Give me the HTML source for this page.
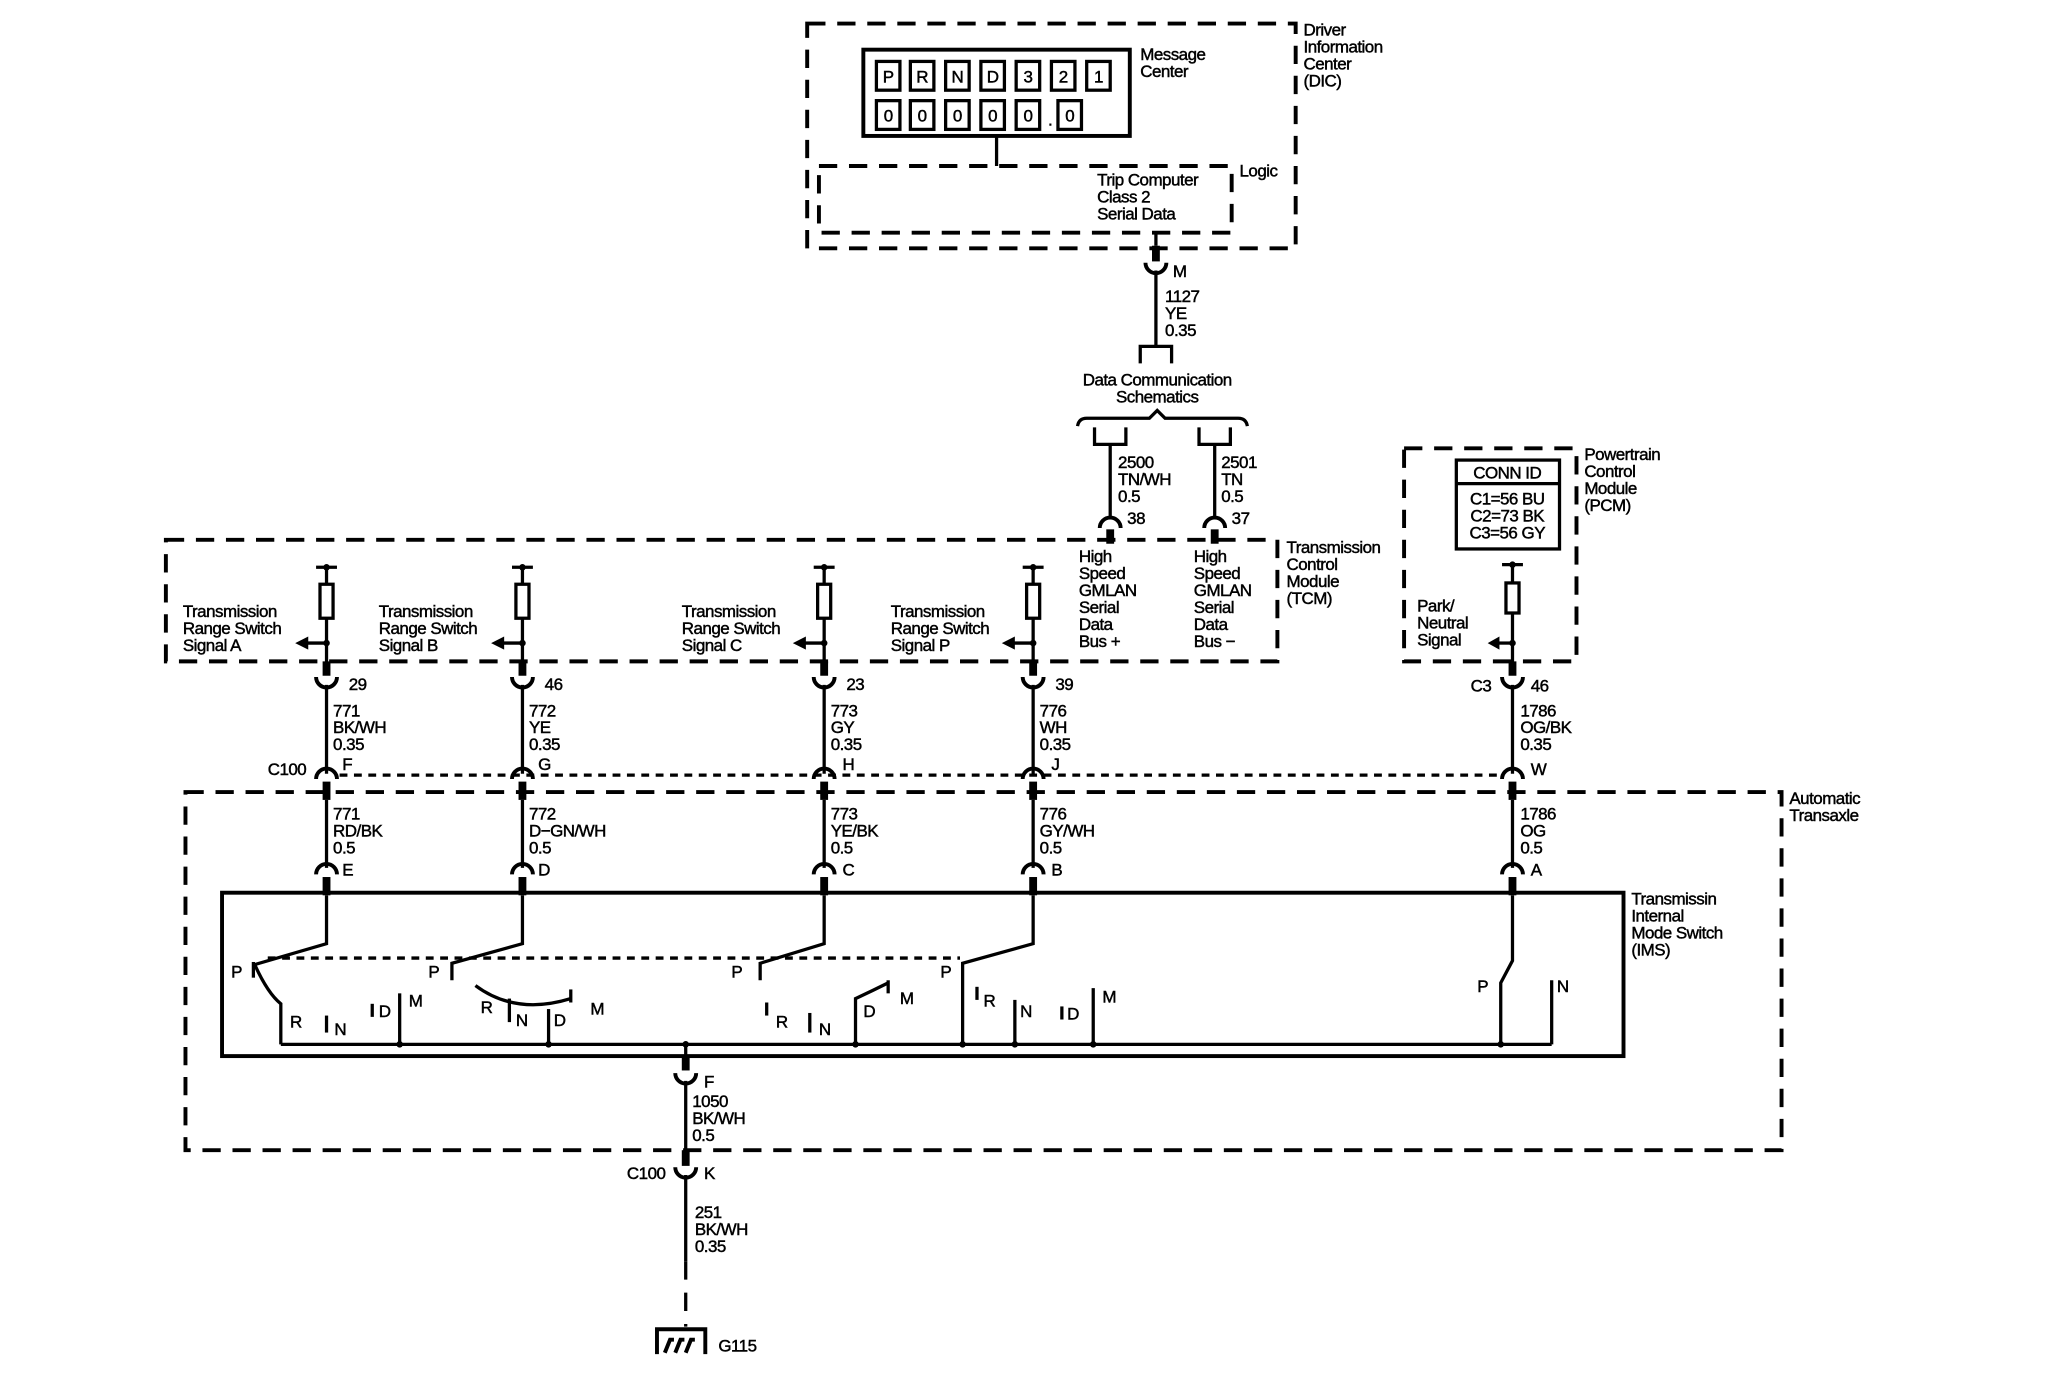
<!DOCTYPE html>
<html><head><meta charset="utf-8"><style>
html,body{margin:0;padding:0;background:#fff;}
svg{display:block}
text{font-family:"Liberation Sans",sans-serif;font-size:13px;fill:#000;stroke:#000;stroke-width:0.35;letter-spacing:-0.4px}
.d{fill:none;stroke:#000;stroke-width:3;stroke-dasharray:14 9}
.l{fill:none;stroke:#000;stroke-width:2.5}
.s{fill:none;stroke:#000;stroke-width:6}
.c{fill:none;stroke:#000;stroke-width:3}
.dot{fill:none;stroke:#000;stroke-width:2.5;stroke-dasharray:6 5}
</style></head><body>
<svg width="2048" height="1392" viewBox="0 0 1568 1065" preserveAspectRatio="none" xmlns="http://www.w3.org/2000/svg">
<rect width="1568" height="1065" fill="#fff"/>
<!-- DIC -->
<rect class="d" x="618" y="18" width="374" height="172"/>
<rect x="661" y="38" width="204" height="66" fill="none" stroke="#000" stroke-width="3"/>
<g fill="none" stroke="#000" stroke-width="2.5">
<rect x="671" y="47" width="18" height="22"/><rect x="697" y="47" width="18" height="22"/><rect x="724" y="47" width="18" height="22"/><rect x="751" y="47" width="18" height="22"/><rect x="778" y="47" width="18" height="22"/><rect x="805" y="47" width="18" height="22"/><rect x="832" y="47" width="18" height="22"/>
<rect x="671" y="77" width="18" height="22"/><rect x="697" y="77" width="18" height="22"/><rect x="724" y="77" width="18" height="22"/><rect x="751" y="77" width="18" height="22"/><rect x="778" y="77" width="18" height="22"/><rect x="810" y="77" width="18" height="22"/>
</g>
<g text-anchor="middle">
<text x="680" y="63">P</text><text x="706" y="63">R</text><text x="733" y="63">N</text><text x="760" y="63">D</text><text x="787" y="63">3</text><text x="814" y="63">2</text><text x="841" y="63">1</text>
<text x="680" y="93">0</text><text x="706" y="93">0</text><text x="733" y="93">0</text><text x="760" y="93">0</text><text x="787" y="93">0</text><text x="804" y="96">.</text><text x="819" y="93">0</text>
</g>
<text x="873" y="46">Message</text><text x="873" y="59">Center</text>
<text x="998" y="27">Driver</text><text x="998" y="40">Information</text><text x="998" y="53">Center</text><text x="998" y="66">(DIC)</text>
<line class="l" x1="763" y1="104" x2="763" y2="127"/>
<rect class="d" x="627" y="127" width="316" height="51"/>
<text x="949" y="135">Logic</text>
<text x="840" y="142">Trip Computer</text><text x="840" y="155">Class 2</text><text x="840" y="168">Serial Data</text>
<line class="l" x1="885" y1="178" x2="885" y2="188"/>
<line class="s" x1="885" y1="188" x2="885" y2="200"/>
<path class="c" d="M877 201 A8 8 0 0 0 893 201"/>
<line class="l" x1="885" y1="207" x2="885" y2="265"/>
<text x="898" y="212">M</text>
<text x="892" y="231">1127</text><text x="892" y="244">YE</text><text x="892" y="257">0.35</text>
<path class="l" d="M873 278 V265 H897 V278"/>
<text x="886" y="295" text-anchor="middle">Data Communication</text>
<text x="886" y="308" text-anchor="middle">Schematics</text>
<path class="l" d="M825 326 Q826 320 832 320 H880 L886 314 L892 320 H948 Q954 320 955 326"/>
<path class="l" d="M838 327 V340 H862 V327"/>
<path class="l" d="M918 327 V340 H942 V327"/>
<line class="l" x1="850" y1="340" x2="850" y2="396"/>
<line class="l" x1="930" y1="340" x2="930" y2="396"/>
<text x="856" y="358">2500</text><text x="856" y="371">TN/WH</text><text x="856" y="384">0.5</text>
<text x="935" y="358">2501</text><text x="935" y="371">TN</text><text x="935" y="384">0.5</text>
<path class="c" d="M842 404 A8 8 0 0 1 858 404"/><line class="s" x1="850" y1="405" x2="850" y2="416"/>
<path class="c" d="M922 404 A8 8 0 0 1 938 404"/><line class="s" x1="930" y1="405" x2="930" y2="416"/>
<text x="863" y="401">38</text><text x="943" y="401">37</text>
<!-- TCM -->
<rect class="d" x="127" y="413" width="851" height="93"/>
<text x="985" y="423">Transmission</text><text x="985" y="436">Control</text><text x="985" y="449">Module</text><text x="985" y="462">(TCM)</text>
<text x="826" y="430">High</text><text x="826" y="443">Speed</text><text x="826" y="456">GMLAN</text><text x="826" y="469">Serial</text><text x="826" y="482">Data</text><text x="826" y="495">Bus +</text>
<text x="914" y="430">High</text><text x="914" y="443">Speed</text><text x="914" y="456">GMLAN</text><text x="914" y="469">Serial</text><text x="914" y="482">Data</text><text x="914" y="495">Bus −</text>

<g id="cA">
<line class="l" x1="242" y1="434" x2="258" y2="434"/><circle cx="250" cy="434" r="2.5"/>
<line class="l" x1="250" y1="434" x2="250" y2="508"/>
<rect x="245" y="447" width="10" height="26" fill="#fff" stroke="#000" stroke-width="2.5"/>
<circle cx="250" cy="492" r="2.5"/><line class="l" x1="250" y1="492" x2="234" y2="492"/><path d="M226 492 L236 487 L236 497Z"/>
<line class="s" x1="250" y1="506" x2="250" y2="517"/>
<path class="c" d="M242 518 A8 8 0 0 0 258 518"/>
<line class="l" x1="250" y1="524" x2="250" y2="592"/>
<path class="c" d="M242 596 A8 8 0 0 1 258 596"/>
<line class="s" x1="250" y1="598" x2="250" y2="612"/>
<line class="l" x1="250" y1="612" x2="250" y2="664"/>
<path class="c" d="M242 669 A8 8 0 0 1 258 669"/>
<line class="s" x1="250" y1="671" x2="250" y2="685"/>
</g>
<use href="#cA" x="150"/><use href="#cA" x="381"/><use href="#cA" x="541"/>
<text x="140" y="472">Transmission</text><text x="140" y="485">Range Switch</text><text x="140" y="498">Signal A</text>
<text x="290" y="472">Transmission</text><text x="290" y="485">Range Switch</text><text x="290" y="498">Signal B</text>
<text x="522" y="472">Transmission</text><text x="522" y="485">Range Switch</text><text x="522" y="498">Signal C</text>
<text x="682" y="472">Transmission</text><text x="682" y="485">Range Switch</text><text x="682" y="498">Signal P</text>
<text x="267" y="528">29</text><text x="417" y="528">46</text><text x="648" y="528">23</text><text x="808" y="528">39</text>
<text x="255" y="548">771</text><text x="255" y="561">BK/WH</text><text x="255" y="574">0.35</text>
<text x="405" y="548">772</text><text x="405" y="561">YE</text><text x="405" y="574">0.35</text>
<text x="636" y="548">773</text><text x="636" y="561">GY</text><text x="636" y="574">0.35</text>
<text x="796" y="548">776</text><text x="796" y="561">WH</text><text x="796" y="574">0.35</text>
<text x="205" y="593">C100</text>
<text x="262" y="589">F</text><text x="412" y="589">G</text><text x="645" y="589">H</text><text x="805" y="589">J</text><text x="1172" y="593">W</text>
<line class="dot" x1="260" y1="593" x2="1150" y2="593"/>
<text x="255" y="627">771</text><text x="255" y="640">RD/BK</text><text x="255" y="653">0.5</text>
<text x="405" y="627">772</text><text x="405" y="640">D−GN/WH</text><text x="405" y="653">0.5</text>
<text x="636" y="627">773</text><text x="636" y="640">YE/BK</text><text x="636" y="653">0.5</text>
<text x="796" y="627">776</text><text x="796" y="640">GY/WH</text><text x="796" y="653">0.5</text>
<text x="262" y="670">E</text><text x="412" y="670">D</text><text x="645" y="670">C</text><text x="805" y="670">B</text>

<!-- PCM -->
<rect class="d" x="1075" y="343" width="132" height="163"/>
<text x="1213" y="352">Powertrain</text><text x="1213" y="365">Control</text><text x="1213" y="378">Module</text><text x="1213" y="391">(PCM)</text>
<rect x="1115" y="352" width="79" height="68" fill="none" stroke="#000" stroke-width="2.5"/>
<line class="l" x1="1115" y1="370" x2="1194" y2="370"/>
<text x="1154" y="366" text-anchor="middle">CONN ID</text>
<text x="1154" y="386" text-anchor="middle">C1=56 BU</text><text x="1154" y="399" text-anchor="middle">C2=73 BK</text><text x="1154" y="412" text-anchor="middle">C3=56 GY</text>
<line class="l" x1="1150" y1="432" x2="1166" y2="432"/><circle cx="1158" cy="432" r="2.5"/>
<line class="l" x1="1158" y1="432" x2="1158" y2="508"/>
<rect x="1153" y="446" width="10" height="23" fill="#fff" stroke="#000" stroke-width="2.5"/>
<circle cx="1158" cy="492" r="2.5"/><line class="l" x1="1158" y1="492" x2="1146" y2="492"/><path d="M1139 492 L1148 487 L1148 497Z"/>
<text x="1085" y="468">Park/</text><text x="1085" y="481">Neutral</text><text x="1085" y="494">Signal</text>
<line class="s" x1="1158" y1="506" x2="1158" y2="517"/>
<path class="c" d="M1150 518 A8 8 0 0 0 1166 518"/>
<line class="l" x1="1158" y1="524" x2="1158" y2="592"/>
<path class="c" d="M1150 596 A8 8 0 0 1 1166 596"/>
<line class="s" x1="1158" y1="598" x2="1158" y2="612"/>
<line class="l" x1="1158" y1="612" x2="1158" y2="664"/>
<path class="c" d="M1150 669 A8 8 0 0 1 1166 669"/>
<line class="s" x1="1158" y1="671" x2="1158" y2="685"/>
<text x="1126" y="529">C3</text><text x="1172" y="529">46</text>
<text x="1164" y="548">1786</text><text x="1164" y="561">OG/BK</text><text x="1164" y="574">0.35</text>
<text x="1164" y="627">1786</text><text x="1164" y="640">OG</text><text x="1164" y="653">0.5</text>
<text x="1172" y="670">A</text>

<!-- Transaxle -->
<rect class="d" x="142" y="606" width="1222" height="274"/>
<text x="1370" y="615">Automatic</text><text x="1370" y="628">Transaxle</text>
<rect x="170" y="683" width="1073" height="125" fill="none" stroke="#000" stroke-width="3"/>
<text x="1249" y="692">Transmissin</text><text x="1249" y="705">Internal</text><text x="1249" y="718">Mode Switch</text><text x="1249" y="731">(IMS)</text>

<line class="l" x1="215" y1="799" x2="1188" y2="799"/>
<line class="dot" x1="205" y1="733" x2="735" y2="733"/>
<g class="l">
<path d="M250 685 V722 L195 738 Q205 760 215 768 V799"/>
<line x1="194" y1="736" x2="194" y2="748"/>
<line x1="250" y1="777" x2="250" y2="790"/><line x1="285" y1="768" x2="285" y2="778"/>
<line x1="306" y1="760" x2="306" y2="799"/>
<path d="M400 685 V722 L346 737 V750"/>
<path d="M364 754 Q395 777 437 764"/><line x1="437" y1="757" x2="437" y2="767"/>
<line x1="390" y1="764" x2="390" y2="782"/><line x1="420" y1="772" x2="420" y2="799"/>
<path d="M631 685 V722 L582 737 V750"/>
<line x1="587" y1="767" x2="587" y2="777"/><line x1="620" y1="775" x2="620" y2="790"/>
<path d="M655 799 V764 Q668 758 680 752"/><line x1="680" y1="750" x2="680" y2="760"/>
<path d="M791 685 V722 L737 737 V799"/>
<line x1="748" y1="755" x2="748" y2="765"/><line x1="777" y1="765" x2="777" y2="799"/>
<line x1="813" y1="770" x2="813" y2="780"/><line x1="837" y1="756" x2="837" y2="799"/>
<path d="M1158 685 V735 L1149 752 V799"/>
<line x1="1188" y1="750" x2="1188" y2="799"/>
</g>
<g>
<circle cx="306" cy="799" r="2.5"/><circle cx="420" cy="799" r="2.5"/><circle cx="655" cy="799" r="2.5"/><circle cx="737" cy="799" r="2.5"/><circle cx="777" cy="799" r="2.5"/><circle cx="837" cy="799" r="2.5"/><circle cx="1149" cy="799" r="2.5"/><circle cx="525" cy="799" r="2.5"/>
</g>
<text x="177" y="748">P</text><text x="222" y="786">R</text><text x="256" y="792">N</text><text x="290" y="778">D</text><text x="313" y="770">M</text>
<text x="328" y="748">P</text><text x="368" y="775">R</text><text x="395" y="785">N</text><text x="424" y="785">D</text><text x="452" y="776">M</text>
<text x="560" y="748">P</text><text x="594" y="786">R</text><text x="627" y="792">N</text><text x="661" y="778">D</text><text x="689" y="768">M</text>
<text x="720" y="748">P</text><text x="753" y="770">R</text><text x="781" y="778">N</text><text x="817" y="780">D</text><text x="844" y="767">M</text>
<text x="1131" y="759">P</text><text x="1192" y="759">N</text>

<!-- ground -->
<line class="l" x1="525" y1="799" x2="525" y2="810"/>
<line class="s" x1="525" y1="808" x2="525" y2="819"/>
<path class="c" d="M517 821 A8 8 0 0 0 533 821"/>
<text x="539" y="832">F</text>
<line class="l" x1="525" y1="827" x2="525" y2="880"/>
<text x="530" y="847">1050</text><text x="530" y="860">BK/WH</text><text x="530" y="873">0.5</text>
<line class="s" x1="525" y1="880" x2="525" y2="892"/>
<path class="c" d="M517 893 A8 8 0 0 0 533 893"/>
<text x="480" y="902">C100</text><text x="539" y="902">K</text>
<line class="l" x1="525" y1="899" x2="525" y2="965"/>
<text x="532" y="932">251</text><text x="532" y="945">BK/WH</text><text x="532" y="958">0.35</text>
<line class="l" x1="525" y1="965" x2="525" y2="1015" stroke-dasharray="14 10"/>
<path class="c" d="M503 1036 V1017 H540 V1036"/>
<path class="c" d="M509 1035 L513 1025 H516 M517 1035 L521 1025 H524 M525 1035 L529 1025 H532"/>
<text x="550" y="1034">G115</text>
</svg>
</body></html>
